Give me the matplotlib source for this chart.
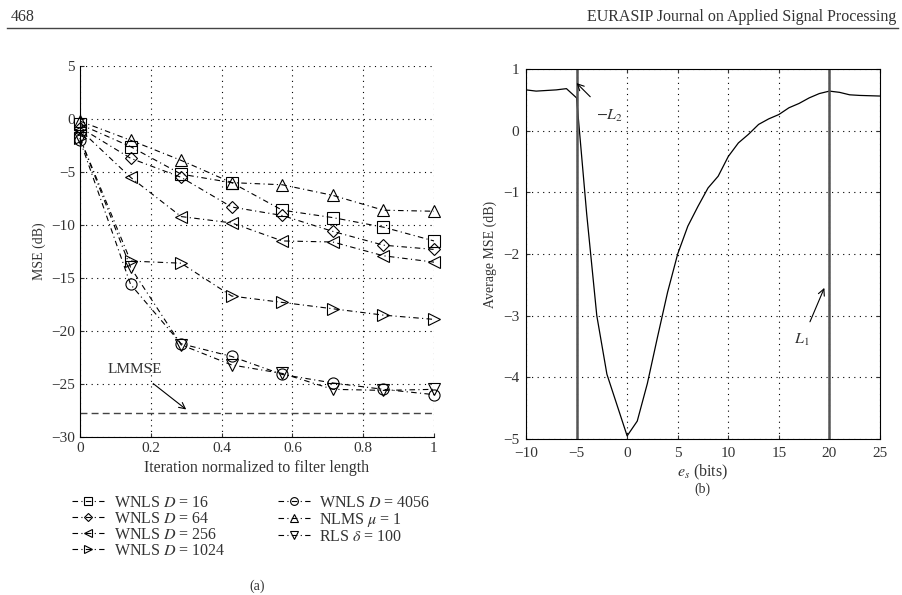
import matplotlib
matplotlib.use("Agg")
import matplotlib.pyplot as plt

plt.rcParams['font.family'] = ['Liberation Serif', 'DejaVu Serif']
plt.rcParams['mathtext.fontset'] = 'stix'
plt.rcParams['font.size'] = 11

# ---- data, panel (a) ----
iters = [0, 1/7, 2/7, 3/7, 4/7, 5/7, 6/7, 1]
mse_d16 = [-0.5, -2.6, -5.2, -6.0, -8.6, -9.3, -10.2, -11.5]
mse_d64 = [-0.8, -3.7, -5.5, -8.3, -9.1, -10.6, -11.9, -12.3]
mse_d256 = [-1.0, -5.5, -9.2, -9.8, -11.5, -11.6, -12.9, -13.5]
mse_d1024 = [-1.8, -13.4, -13.6, -16.7, -17.3, -17.9, -18.5, -18.9]
mse_d4056 = [-2.0, -15.6, -21.2, -22.4, -24.1, -24.9, -25.5, -26.0]
mse_nlms = [-0.2, -2.0, -3.9, -6.0, -6.2, -7.2, -8.6, -8.7]
mse_rls = [-1.8, -14.0, -21.3, -23.2, -24.0, -25.5, -25.6, -25.5]
lmmse = -27.7

labels_a = ['WNLS $D$ = 16', 'WNLS $D$ = 64', 'WNLS $D$ = 256', 'WNLS $D$ = 1024',
            'WNLS $D$ = 4056', r'NLMS $\mu$ = 1', r'RLS $\delta$ = 100']
markers_a = ['s', 'D', '<', '>', 'o', '^', 'v']
series_a = [mse_d16, mse_d64, mse_d256, mse_d1024, mse_d4056, mse_nlms, mse_rls]

# ---- data, panel (b) ----
es_bits = [-10, -9, -8, -7, -6, -5, -4, -3, -2, -1, 0, 1, 2, 3, 4, 5, 6, 7, 8, 9,
           10, 11, 12, 13, 14, 15, 16, 17, 18, 19, 20, 21, 22, 23, 24, 25]
avg_mse = [0.66, 0.64, 0.65, 0.66, 0.68, 0.53, -1.35, -3.0, -3.95, -4.45, -4.95,
           -4.71, -4.1, -3.35, -2.62, -2.0, -1.55, -1.23, -0.93, -0.74,
           -0.42, -0.20, -0.06, 0.10, 0.19, 0.26, 0.37, 0.44, 0.53, 0.60,
           0.64, 0.62, 0.58, 0.57, 0.565, 0.56]
limits_b = [-5, 20]

txt = '#333333'
dashdot = (0, (5, 3, 1, 3))
fig = plt.figure(figsize=(9.03, 5.95), dpi=100)

# page header
fig.text(0.012, 0.965, '468', fontsize=11.5, color=txt)
fig.text(0.993, 0.965, 'EURASIP Journal on Applied Signal Processing', fontsize=11.5,
         color=txt, ha='right')
fig.add_artist(plt.Line2D([0.008, 0.995], [0.953, 0.953], color='#444444', lw=1.0))

# ---- panel (a) ----
ax1 = fig.add_axes([0.0886, 0.2655, 0.392, 0.6235])
for vals, mk, lab in zip(series_a, markers_a, labels_a):
    ax1.plot(iters, vals, linestyle=dashdot, color='black', lw=0.8, marker=mk,
             markersize=8 if mk != 'D' else 6.5, markerfacecolor='none',
             markeredgecolor='black', markeredgewidth=0.8, label=lab, clip_on=False)
ax1.axhline(lmmse, color='#444444', lw=1.0, ls=(0, (5, 3)))
ax1.annotate('LMMSE', xy=(0.30, -27.4), xytext=(0.155, -23.6), ha='center', va='center',
             color=txt, fontsize=11,
             arrowprops=dict(arrowstyle='->', color='black', lw=0.8,
                             shrinkA=6, shrinkB=0))
ax1.set_xlim(0, 1)
ax1.set_ylim(-30, 5)
ax1.set_xticks([0, 0.2, 0.4, 0.6, 0.8, 1])
ax1.set_xticklabels(['0', '0.2', '0.4', '0.6', '0.8', '1'])
ax1.set_yticks([-30, -25, -20, -15, -10, -5, 0, 5])
ax1.set_yticklabels(['\u221230', '\u221225', '\u221220', '\u221215', '\u221210', '\u22125', '0', '5'])
ax1.grid(True, linestyle=(0, (1, 4)), color='black', lw=0.8)
ax1.spines['top'].set_visible(False)
ax1.spines['right'].set_visible(False)
ax1.tick_params(direction='in', colors=txt, length=3, labelsize=11)
ax1.set_xlabel('Iteration normalized to filter length', color=txt, fontsize=11.5)
ax1.set_ylabel('MSE (dB)', color=txt, fontsize=10)
leg = ax1.legend(loc='upper left', bbox_to_anchor=(72 / 903, 1 - 495 / 595),
                 bbox_transform=fig.transFigure, ncol=2, frameon=False,
                 borderaxespad=0, borderpad=0, handlelength=2.0, handletextpad=0.6,
                 columnspacing=3.3, labelspacing=0.0, fontsize=11.5, markerscale=0.7)
for t in leg.get_texts():
    t.set_color(txt)
fig.text(0.285, 0.014, '(a)', ha='center', va='center', color=txt, fontsize=10)

# ---- panel (b) ----
ax2 = fig.add_axes([0.5825, 0.2622, 0.392, 0.622])
ax2.plot(es_bits, avg_mse, color='black', lw=0.9)
for lim in limits_b:
    ax2.axvline(lim, color='#555555', lw=1.8)
ax2.annotate('$-L_2$', xy=(-5.0, 0.77), xytext=(-1.7, 0.23), ha='center', va='center',
             color=txt, fontsize=11.5,
             arrowprops=dict(arrowstyle='->', color='black', lw=0.8,
                             shrinkA=9, shrinkB=0))
ax2.annotate('$L_1$', xy=(19.5, -2.55), xytext=(17.3, -3.4), ha='center', va='center',
             color=txt, fontsize=11.5,
             arrowprops=dict(arrowstyle='->', color='black', lw=0.8,
                             shrinkA=6, shrinkB=0))
ax2.set_xlim(-10, 25)
ax2.set_ylim(-5, 1)
ax2.set_xticks([-10, -5, 0, 5, 10, 15, 20, 25])
ax2.set_xticklabels(['\u221210', '\u22125', '0', '5', '10', '15', '20', '25'])
ax2.set_yticks([-5, -4, -3, -2, -1, 0, 1])
ax2.set_yticklabels(['\u22125', '\u22124', '\u22123', '\u22122', '\u22121', '0', '1'])
ax2.grid(True, linestyle=(0, (1, 4)), color='black', lw=0.8)
ax2.tick_params(direction='in', colors=txt, length=3, top=True, right=True, labelsize=11)
ax2.tick_params(axis='x', pad=6)
ax2.tick_params(axis='y', pad=5)
ax2.set_xlabel('$e_s$ (bits)', color=txt, fontsize=11.5, labelpad=2)
ax2.set_ylabel('Average MSE (dB)', color=txt, fontsize=10)
fig.text(0.778, 0.178, '(b)', ha='center', va='center', color=txt, fontsize=10)

fig.savefig('out.png', dpi=100)
